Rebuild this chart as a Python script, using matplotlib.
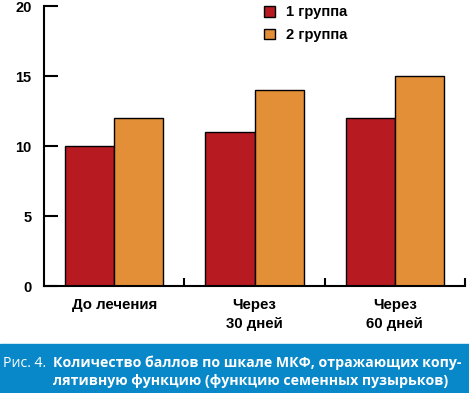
import matplotlib.pyplot as plt
import numpy as np
from matplotlib.patches import Rectangle

categories = ['До лечения', 'Через\n30 дней', 'Через\n60 дней']
group1 = [10, 11, 12]
group2 = [12, 14, 15]
series_names = ['1 группа', '2 группа']
yticks = [0, 5, 10, 15, 20]

red = '#B81A21'
orange = '#E38F38'
blue = '#0888C8'

plt.rcParams['font.family'] = ['Liberation Sans', 'DejaVu Sans']

fig = plt.figure(figsize=(4.69, 3.93), dpi=100)
ax = fig.add_axes([44/469, (393-286)/393, (465-44)/469, (286-6)/393])

x = np.arange(len(categories))
w = 0.35
ax.bar(x - w/2, group1, w, color=red, edgecolor='black', linewidth=1, label=series_names[0])
ax.bar(x + w/2, group2, w, color=orange, edgecolor='black', linewidth=1, label=series_names[1])

ax.set_xlim(-0.5, 2.5)
ax.set_ylim(0, 20)
ax.set_yticks(yticks)
ax.set_xticks(x)
ax.set_xticklabels(categories, fontsize=10.8, fontweight='bold', linespacing=1.45)
ax.set_xticks([0.5, 1.5, 2.5], minor=True)
ax.tick_params(axis='x', which='major', length=0, pad=9)
ax.tick_params(axis='x', which='minor', direction='in', length=6, width=1.5)
ax.tick_params(axis='y', direction='in', length=10, width=1.5, labelsize=10.5, pad=9)
for lab in ax.get_yticklabels():
    lab.set_fontweight('bold')
for s in ['top', 'right']:
    ax.spines[s].set_visible(False)
for s in ['left', 'bottom']:
    ax.spines[s].set_linewidth(1.5)

ax.legend(loc='upper left', bbox_to_anchor=(0.49, 1.05), frameon=False,
          prop={'weight': 'bold', 'size': 10.6}, handlelength=0.75, handleheight=0.75,
          handletextpad=0.8, labelspacing=0.6)

fig.patches.append(Rectangle((0, 0), 1, 49/393, transform=fig.transFigure,
                             color=blue, zorder=0))
cap_font = ['Open Sans', 'DejaVu Sans']
cap_size = 10.2
fig.text(3/469, 1 - 367/393, 'Рис. 4.', color='white', fontsize=cap_size,
         family=cap_font, va='baseline')
fig.text(53/469, 1 - 367/393, 'Количество баллов по шкале МКФ, отражающих копу-',
         color='white', fontsize=cap_size, fontweight='bold', family=cap_font, va='baseline')
fig.text(53/469, 1 - 385/393, 'лятивную функцию (функцию семенных пузырьков)',
         color='white', fontsize=cap_size, fontweight='bold', family=cap_font, va='baseline')

fig.savefig('out.png', dpi=100)
